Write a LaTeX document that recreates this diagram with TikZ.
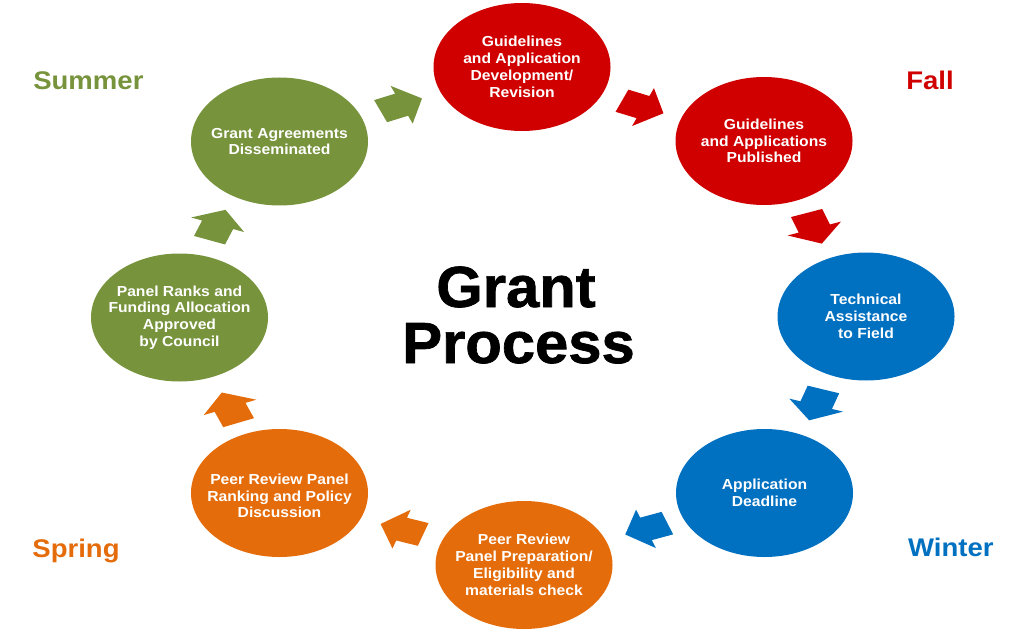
\documentclass[tikz,border=0pt]{standalone}
\usepackage{fontspec}
\usetikzlibrary{shapes.geometric}
\newfontfamily\labfont[FakeStretch=1.08]{Liberation Sans}
\newfontfamily\titlefont[FakeBold=1.2,FakeStretch=1.03]{Liberation Sans Bold}
\definecolor{gpred}{RGB}{208,0,0}
\definecolor{gpblue}{RGB}{0,112,192}
\definecolor{gporange}{RGB}{228,108,10}
\definecolor{gpgreen}{RGB}{119,147,60}
\tikzset{
  stage/.style={ellipse, fill=#1, minimum width=177pt, minimum height=128pt, inner sep=0pt},
  stagetext/.style={inner sep=0pt, text=white, align=center,
    font=\labfont\bfseries\fontsize{14.5}{16.8}\selectfont},
  season/.style={anchor=base, text=#1, inner sep=0pt,
    font=\labfont\bfseries\fontsize{25.5}{28}\selectfont},
  heading/.style={anchor=base, inner sep=0pt, text=black,
    font=\titlefont\fontsize{58}{56}\selectfont},
  pics/blockarrow/.style={code={
    \fill[#1] (-16.25,-12) -- (0.25,-12) -- (0.25,-20.5) -- (16.25,0)
      -- (0.25,20.5) -- (0.25,12) -- (-16.25,12) -- cycle;}}
}
\begin{document}
\begin{tikzpicture}[x=1pt,y=-1pt]
\useasboundingbox[fill=white] (0,0) rectangle (1024,644);
% stages
\node[stage=gpred] (s1) at (522,67) {};
\node[stage=gpred] (s2) at (764,141) {};
\node[stage=gpblue] (s3) at (866,316.5) {};
\node[stage=gpblue] (s4) at (764.5,493) {};
\node[stage=gporange] (s5) at (524,565) {};
\node[stage=gporange] (s6) at (279.5,493) {};
\node[stage=gpgreen] (s7) at (179.5,317.5) {};
\node[stage=gpgreen] (s8) at (279.5,141.5) {};
\node[stagetext] (s1t) at (s1) {Guidelines\\and Application\\Development/\\Revision};
\node[stagetext] (s2t) at (s2) {Guidelines\\and Applications\\Published};
\node[stagetext] (s3t) at (s3) {Technical\\Assistance\\to Field};
\node[stagetext] (s4t) at (s4) {Application\\Deadline};
\node[stagetext] (s5t) at (s5) {Peer Review\\Panel Preparation/\\Eligibility and\\materials check};
\node[stagetext] (s6t) at ([yshift=-3pt]s6.center) {Peer Review Panel\\Ranking and Policy\\Discussion};
\node[stagetext] (s7t) at (s7) {Panel Ranks and\\Funding Allocation\\Approved\\by Council};
\node[stagetext] (s8t) at (s8) {Grant Agreements\\Disseminated};
% block arrows
\begin{scope}[xscale=1.383]
\pic[transform shape, rotate=23] (a81) at ({401.3/1.383},104.8) {blockarrow=gpgreen};
\pic[transform shape, rotate=-22.7] (a12) at ({642.7/1.383},107) {blockarrow=gpred};
\pic[transform shape, rotate=-70.2] (a23) at ({814.2/1.383},228.3) {blockarrow=gpred};
\pic[transform shape, rotate=-108.5] (a34) at ({816.3/1.383},404.9) {blockarrow=gpblue};
\pic[transform shape, rotate=-159.5] (a45) at ({646.3/1.383},528.8) {blockarrow=gpblue};
\pic[transform shape, rotate=161.2] (a56) at ({401.9/1.383},529.2) {blockarrow=gporange};
\pic[transform shape, rotate=112] (a67) at ({230.2/1.383},407.6) {blockarrow=gporange};
\pic[transform shape, rotate=69.2] (a78) at ({217.5/1.383},225) {blockarrow=gpgreen};
\end{scope}
% seasons
\node[season=gpgreen] (summer) at (88.4,90) {Summer};
\node[season=gpred] (fall) at (930,89.3) {Fall};
\node[season=gpblue] (winter) at (950.8,556.7) {Winter};
\node[season=gporange] (spring) at (76,557) {Spring};
% title
\node[heading] (t1) at (516,307) {Grant};
\node[heading] (t2) at (518.5,363) {Process};
\end{tikzpicture}
\end{document}
